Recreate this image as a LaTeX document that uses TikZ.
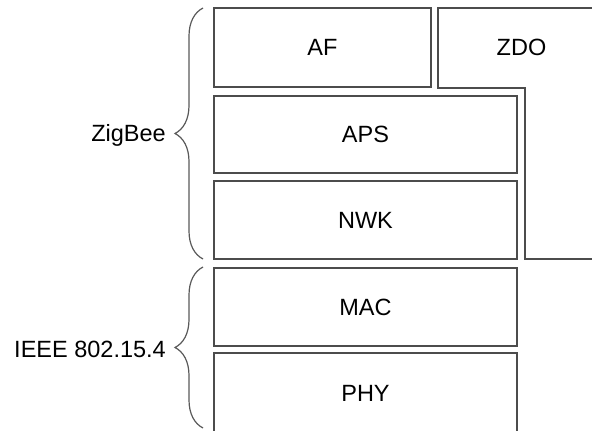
\documentclass[tikz,border=0pt]{standalone}
\usepackage{fontspec}
\setmainfont{Liberation Sans}
\usetikzlibrary{decorations.pathreplacing}

\begin{document}
\begin{tikzpicture}[x=1pt, y=-1pt,
  every node/.style={font=\fontsize{23.5}{28}\selectfont},
  layer/.style={draw=black!70, line width=1.2pt, minimum height=78pt, inner sep=0pt},
  grp/.style={draw=black!65, line width=1.2pt, decorate, decoration={brace, amplitude=28pt}}]
  \clip (0,0) rectangle (592,431);

  % Couches ZigBee
  \node[layer, minimum width=217pt, minimum height=79pt] (af) at (322.5,47.5) {AF};
  \node[layer, minimum width=303pt, minimum height=77pt] (aps) at (365.5,134.5) {APS};
  \node[layer, minimum width=303pt] (nwk) at (365.5,220) {NWK};

  % ZDO (en L)
  \draw[draw=black!70, line width=1.2pt] (438,8) -- (600,8) -- (600,259) -- (525,259) -- (525,88) -- (438,88) -- cycle;
  \node (zdo) at (521.5,47) {ZDO};

  % Couches IEEE 802.15.4
  \node[layer, minimum width=303pt] (mac) at (365.5,307) {MAC};
  \node[layer, minimum width=303pt, minimum height=80pt] (phy) at (365.5,393) {PHY};

  % Accolades
  \draw[grp] (203,259) -- (203,8);
  \draw[grp] (203,428) -- (203,267);
  \node[anchor=base east, inner sep=0pt] (zigbee) at (166,141) {ZigBee};
  \node[anchor=base east, inner sep=0pt] (ieee) at (166,357) {IEEE 802.15.4};
\end{tikzpicture}
\end{document}
